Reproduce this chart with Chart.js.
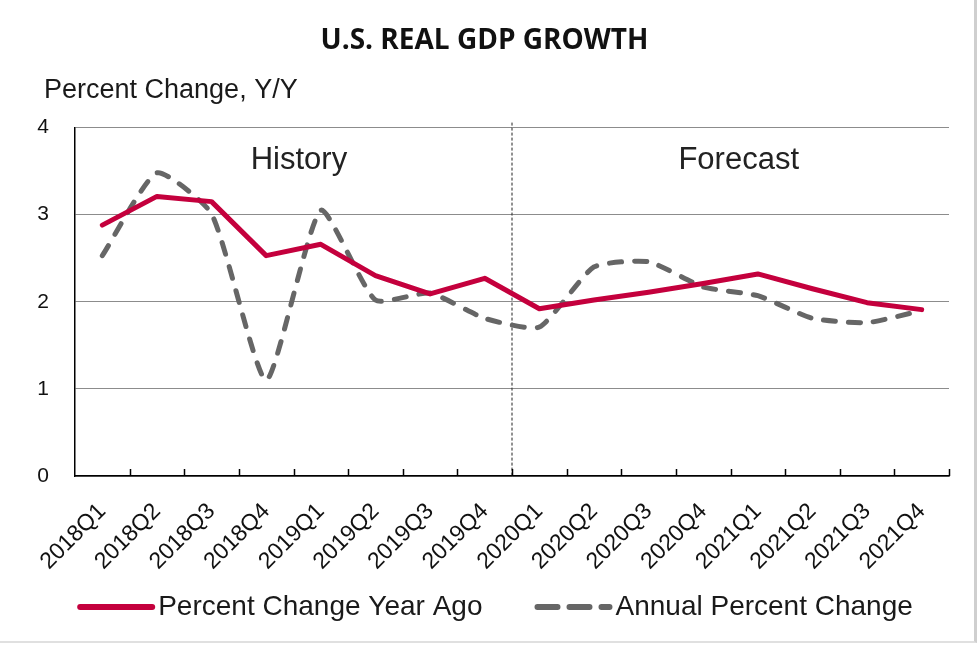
<!DOCTYPE html>
<html>
<head>
<meta charset="utf-8">
<title>U.S. Real GDP Growth</title>
<script src="https://cdn.jsdelivr.net/npm/chart.js@4.4.1/dist/chart.umd.min.js"></script>
<style>
  html, body { margin: 0; padding: 0; background: #fff; }
  #frame { width: 974px; height: 641px; border-right: 3px solid #cfcfcf; border-bottom: 2px solid #e0e0e0; }
  #frame canvas { display: block; }
</style>
</head>
<body>
<div id="frame"><canvas id="gdpChart" width="974" height="641"></canvas></div>
<script>
// Quarters on the x axis
const quarters = ['2018Q1', '2018Q2', '2018Q3', '2018Q4', '2019Q1', '2019Q2', '2019Q3', '2019Q4',
    '2020Q1', '2020Q2', '2020Q3', '2020Q4', '2021Q1', '2021Q2', '2021Q3', '2021Q4'];

// Series values (percent)
const yearAgoChange = [2.88, 3.21, 3.15, 2.53, 2.66, 2.30, 2.09, 2.27, 1.92, 2.02, 2.11, 2.21, 2.32, 2.15, 1.99, 1.91];
const annualChange = [2.53, 3.48, 3.01, 1.10, 3.05, 2.02, 2.10, 1.81, 1.71, 2.40, 2.46, 2.17, 2.07, 1.81, 1.76, 1.90];

// Y axis ticks
const yTicks = [0, 1, 2, 3, 4];

// First forecast quarter, and the history / forecast labels
const forecastStart = '2020Q1';
const periodLabels = ['History', 'Forecast'];

const fontFamily = '"Liberation Sans", Arial, sans-serif';

// Draws the subtitle, the history/forecast divider and labels, the inside x ticks and the legend
const chartDecor = {
    id: 'chartDecor',
    beforeDatasetsDraw(chart) {
        const {ctx, chartArea, scales: {x}} = chart;
        const splitX = x.getPixelForValue(quarters.indexOf(forecastStart) - 0.5);

        // Dotted divider between history and forecast
        ctx.save();
        ctx.strokeStyle = '#222';
        ctx.lineWidth = 1;
        ctx.setLineDash([3, 2]);
        ctx.beginPath();
        ctx.moveTo(splitX, chartArea.top - 5);
        ctx.lineTo(splitX, chartArea.bottom);
        ctx.stroke();
        ctx.restore();
    },
    afterDraw(chart) {
        const {ctx, chartArea, scales: {x, y}} = chart;
        ctx.save();

        // Axis subtitle above the plot
        ctx.fillStyle = '#1a1a1a';
        ctx.font = '27px ' + fontFamily;
        ctx.textAlign = 'left';
        ctx.textBaseline = 'alphabetic';
        ctx.fillText('Percent Change, Y/Y', chartArea.left - 31, chartArea.top - 30);

        // History / Forecast labels, centred on each period
        const split = quarters.indexOf(forecastStart);
        ctx.font = '31px ' + fontFamily;
        ctx.textAlign = 'center';
        ctx.fillStyle = '#222';
        ctx.fillText(periodLabels[0], x.getPixelForValue((split - 1) / 2 + 0.1), y.getPixelForValue(3.53));
        ctx.fillText(periodLabels[1], x.getPixelForValue((split + quarters.length - 1) / 2 + 0.15), y.getPixelForValue(3.53));

        // Tick marks between quarters, pointing up into the plot
        ctx.strokeStyle = '#000';
        ctx.lineWidth = 1.5;
        ctx.beginPath();
        for (let i = 1; i <= quarters.length; i++) {
            const tx = Math.round(x.getPixelForValue(i - 0.5)) + 0.5;
            ctx.moveTo(tx, chartArea.bottom);
            ctx.lineTo(tx, chartArea.bottom - 7);
        }
        ctx.stroke();

        // Legend below the axis labels
        ctx.font = '28px ' + fontFamily;
        ctx.textBaseline = 'alphabetic';
        ctx.textAlign = 'left';
        const sampleWidth = 78;
        const textGap = 3;
        const itemGap = 52;
        const items = chart.data.datasets.map(ds => ({
            label: ds.label,
            color: ds.borderColor,
            dash: ds.legendDash || [],
            textWidth: ctx.measureText(ds.label).width
        }));
        const total = items.reduce((sum, it) => sum + sampleWidth + textGap + it.textWidth, 0) + itemGap * (items.length - 1);
        let cursor = (chartArea.left + chartArea.right) / 2 - 17 - total / 2;
        const lineY = 607;
        items.forEach(it => {
            ctx.strokeStyle = it.color;
            ctx.lineWidth = 6;
            ctx.lineCap = 'round';
            ctx.setLineDash(it.dash);
            ctx.beginPath();
            ctx.moveTo(cursor + 3, lineY);
            ctx.lineTo(cursor + sampleWidth - 3, lineY);
            ctx.stroke();
            ctx.setLineDash([]);
            ctx.fillStyle = '#1a1a1a';
            ctx.fillText(it.label, cursor + sampleWidth + textGap, 615);
            cursor += sampleWidth + textGap + it.textWidth + itemGap;
        });

        ctx.restore();
    }
};

new Chart(document.getElementById('gdpChart'), {
    type: 'line',
    data: {
        labels: quarters,
        datasets: [
            {
                label: 'Percent Change Year Ago',
                data: yearAgoChange,
                borderColor: '#c4003d',
                borderWidth: 5,
                borderCapStyle: 'round',
                borderJoinStyle: 'round',
                pointRadius: 0,
                tension: 0,
                fill: false
            },
            {
                label: 'Annual Percent Change',
                data: annualChange,
                borderColor: '#666666',
                borderWidth: 5,
                borderDash: [12, 13],
                borderCapStyle: 'round',
                borderJoinStyle: 'round',
                legendDash: [20, 12],
                pointRadius: 0,
                tension: 0.18,
                fill: false
            }
        ]
    },
    options: {
        responsive: false,
        animation: false,
        layout: {
            padding: {left: 20, right: 25, top: 0, bottom: 70}
        },
        plugins: {
            legend: {display: false},
            tooltip: {enabled: false},
            title: {
                display: true,
                text: 'U.S. REAL GDP GROWTH',
                color: '#111',
                font: {family: '"Open Sans", sans-serif', size: 28, weight: 'bold'},
                padding: {top: 24, bottom: 70}
            }
        },
        scales: {
            x: {
                offset: true,
                grid: {drawOnChartArea: false, drawTicks: false, offset: true},
                border: {color: '#000', width: 1.5},
                ticks: {
                    autoSkip: false,
                    minRotation: 45,
                    maxRotation: 45,
                    padding: 22,
                    color: '#111',
                    font: {family: fontFamily, size: 23}
                },
                afterFit: scale => { scale.height = 95; }
            },
            y: {
                min: yTicks[0],
                max: yTicks[yTicks.length - 1],
                afterBuildTicks: scale => { scale.ticks = yTicks.map(v => ({value: v})); },
                grid: {color: '#8c8c8c', lineWidth: 1, drawTicks: false},
                border: {color: '#000', width: 1.5},
                ticks: {
                    padding: 26,
                    color: '#111',
                    font: {family: fontFamily, size: 21}
                },
                afterFit: scale => { scale.width = 55; }
            }
        }
    },
    plugins: [chartDecor]
});
</script>
</body>
</html>
